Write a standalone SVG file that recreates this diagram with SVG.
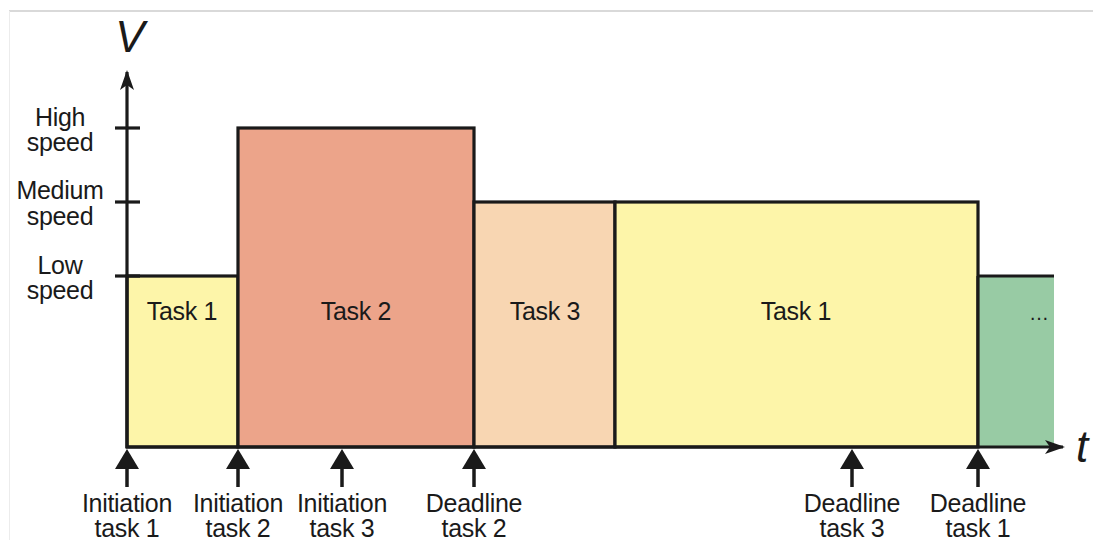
<svg xmlns="http://www.w3.org/2000/svg" width="1093" height="540" viewBox="0 0 1093 540">
  <style>
    text { font-family: "Liberation Sans", Arial, sans-serif; fill: #1a1a1a; }
    .lbl { font-size: 25px; text-anchor: middle; letter-spacing: -0.3px; }
    .axis-name { font-size: 44px; font-style: italic; text-anchor: middle; }
    .bar { stroke: #1a1a1a; stroke-width: 3.2; }
    .line { stroke: #1a1a1a; stroke-width: 3.2; fill: none; }
  </style>
  <defs>
    <marker id="axisHead" viewBox="0 0 20 14" refX="18" refY="7" markerWidth="20" markerHeight="14" markerUnits="userSpaceOnUse" orient="auto">
      <path d="M0,0 L20,7 L0,14 L5,7 Z" fill="#1a1a1a"/>
    </marker>
    <g id="event">
      <path d="M0,0 L-12,20 L12,20 Z" fill="#1a1a1a"/>
      <line x1="0" y1="18" x2="0" y2="38" stroke="#1a1a1a" stroke-width="3.5"/>
    </g>
  </defs>

  <rect width="1093" height="540" fill="#ffffff"/>
  <!-- frame -->
  <line x1="9" y1="11" x2="1093" y2="11" stroke="#cccccc" stroke-width="1.5"/>
  <line x1="9.5" y1="11" x2="9.5" y2="540" stroke="#ececec" stroke-width="1"/>

  <!-- task bars -->
  <g id="task1a"><rect class="bar" x="127" y="276" width="111" height="171" fill="#fdf5a9"/><text class="lbl" x="182" y="320">Task 1</text></g>
  <g id="task2"><rect class="bar" x="238" y="128" width="236" height="319" fill="#eca48a"/><text class="lbl" x="356" y="320">Task 2</text></g>
  <g id="task3"><rect class="bar" x="474" y="202" width="141" height="245" fill="#f8d6b2"/><text class="lbl" x="545" y="320">Task 3</text></g>
  <g id="task1b"><rect class="bar" x="615" y="202" width="363" height="245" fill="#fdf5a9"/><text class="lbl" x="796" y="320">Task 1</text></g>
  <g id="next">
    <rect x="978" y="276" width="76" height="171" fill="#98cba4"/>
    <line class="line" x1="978" y1="276" x2="1054" y2="276"/>
    <line class="line" x1="978" y1="276" x2="978" y2="447"/>
    <text x="1039" y="320" style="font-size:20px;text-anchor:middle">…</text>
  </g>

  <!-- axes -->
  <g id="axes">
    <line class="line" x1="127" y1="448" x2="127" y2="72" marker-end="url(#axisHead)"/>
    <line class="line" x1="126" y1="447" x2="1063" y2="447" marker-end="url(#axisHead)"/>
    <line class="line" x1="115" y1="128" x2="140" y2="128"/>
    <line class="line" x1="115" y1="202" x2="140" y2="202"/>
    <line class="line" x1="115" y1="276" x2="140" y2="276"/>
    <text class="axis-name" x="130" y="52">V</text>
    <text class="axis-name" x="1082" y="462">t</text>
  </g>

  <!-- speed levels -->
  <g id="levels">
    <text class="lbl" x="60" y="126">High</text>
    <text class="lbl" x="60" y="151">speed</text>
    <text class="lbl" x="60" y="199">Medium</text>
    <text class="lbl" x="60" y="225">speed</text>
    <text class="lbl" x="60" y="274">Low</text>
    <text class="lbl" x="60" y="299">speed</text>
  </g>

  <!-- events on the time axis -->
  <g id="events">
    <use href="#event" x="127" y="449"/>
    <use href="#event" x="238" y="449"/>
    <use href="#event" x="342" y="449"/>
    <use href="#event" x="474" y="449"/>
    <use href="#event" x="852" y="449"/>
    <use href="#event" x="978" y="449"/>
    <text class="lbl" x="127" y="512">Initiation</text><text class="lbl" x="127" y="537">task 1</text>
    <text class="lbl" x="238" y="512">Initiation</text><text class="lbl" x="238" y="537">task 2</text>
    <text class="lbl" x="342" y="512">Initiation</text><text class="lbl" x="342" y="537">task 3</text>
    <text class="lbl" x="474" y="512">Deadline</text><text class="lbl" x="474" y="537">task 2</text>
    <text class="lbl" x="852" y="512">Deadline</text><text class="lbl" x="852" y="537">task 3</text>
    <text class="lbl" x="978" y="512">Deadline</text><text class="lbl" x="978" y="537">task 1</text>
  </g>
</svg>
